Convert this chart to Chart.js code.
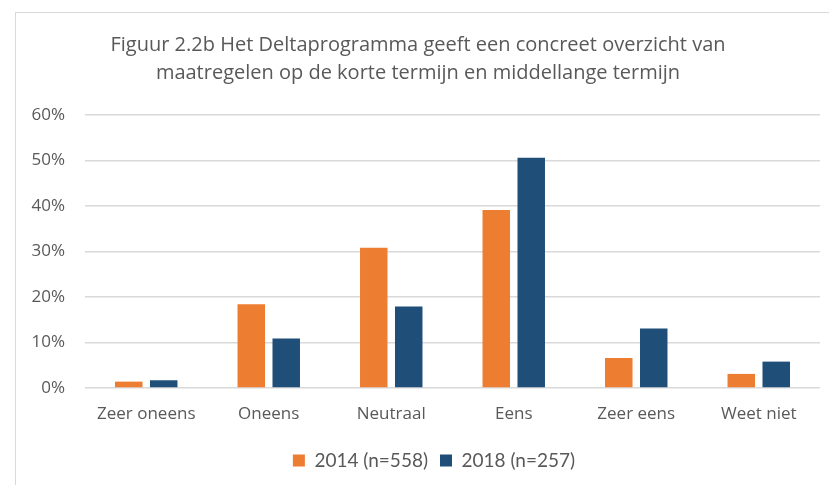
<!DOCTYPE html>
<html>
<head>
<meta charset="utf-8">
<script src="https://cdn.jsdelivr.net/npm/chart.js@4"></script>
<style>
  html, body { margin: 0; padding: 0; background: #fff; overflow: hidden; }
  body { width: 829px; height: 485px; position: relative; }
  #frame {
    position: absolute; left: 15px; top: 12px; width: 900px; height: 600px;
    border-left: 1px solid #d9d9d9; border-top: 1px solid #d9d9d9;
  }
  #chart { position: absolute; left: 16px; top: 13px; }
</style>
</head>
<body>
<div id="frame"></div>
<canvas id="chart" width="829" height="472"></canvas>
<script>
  // Data
  const categories = ['Zeer oneens', 'Oneens', 'Neutraal', 'Eens', 'Zeer eens', 'Weet niet'];
  const series2014 = [1.4, 18.4, 30.8, 39.1, 6.6, 3.1];
  const series2018 = [1.7, 10.9, 17.9, 50.6, 13.1, 5.8];
  const seriesLabels = ['2014 (n=558)', '2018 (n=257)'];
  const yTicks = [0, 10, 20, 30, 40, 50, 60];

  const textColor = '#595959';
  const colors = {
    y2014: '#ED7D31',
    y2018: '#1F4E79'
  };

  // nudge the legend right a bit, like the original
  const legendShift = {
    id: 'legendShift',
    afterLayout(chart) {
      chart.legend.left += 16;
      chart.legend.right += 16;
    }
  };

  new Chart(document.getElementById('chart'), {
    type: 'bar',
    data: {
      labels: categories,
      datasets: [
        {
          label: seriesLabels[0],
          data: series2014,
          backgroundColor: colors.y2014,
          categoryPercentage: 0.571,
          barPercentage: 0.786
        },
        {
          label: seriesLabels[1],
          data: series2018,
          backgroundColor: colors.y2018,
          categoryPercentage: 0.571,
          barPercentage: 0.786
        }
      ]
    },
    options: {
      responsive: false,
      animation: false,
      layout: { padding: { left: 0, right: 25, top: 0, bottom: 5 } },
      plugins: {
        title: {
          display: true,
          text: ['Figuur 2.2b Het Deltaprogramma geeft een concreet overzicht van',
                 'maatregelen op de korte termijn en middellange termijn'],
          color: textColor,
          font: { family: 'Open Sans', size: 20, weight: 'normal', lineHeight: 1.4 },
          padding: { top: 18, bottom: 28 }
        },
        legend: {
          position: 'bottom',
          labels: {
            color: textColor,
            font: { family: 'Lato', size: 19 },
            boxWidth: 12,
            boxHeight: 12,
            padding: 12
          }
        },
        tooltip: { enabled: false }
      },
      scales: {
        x: {
          grid: { display: false, drawTicks: false },
          border: { display: false },
          ticks: {
            color: textColor,
            font: { family: 'Open Sans', size: 17 },
            padding: 16
          },
          afterFit: function(scale) { scale.height = 51; }
        },
        y: {
          min: 0,
          max: 60,
          afterBuildTicks: function(scale) {
            scale.ticks = yTicks.map(v => ({ value: v }));
          },
          grid: { color: '#d9d9d9', lineWidth: 1.5, drawTicks: false },
          border: { display: false },
          ticks: {
            color: textColor,
            font: { family: 'Open Sans', size: 17 },
            padding: 20,
            callback: v => v + '%'
          },
          afterFit: function(scale) { scale.width = 69; }
        }
      }
    },
    plugins: [legendShift]
  });
</script>
</body>
</html>
